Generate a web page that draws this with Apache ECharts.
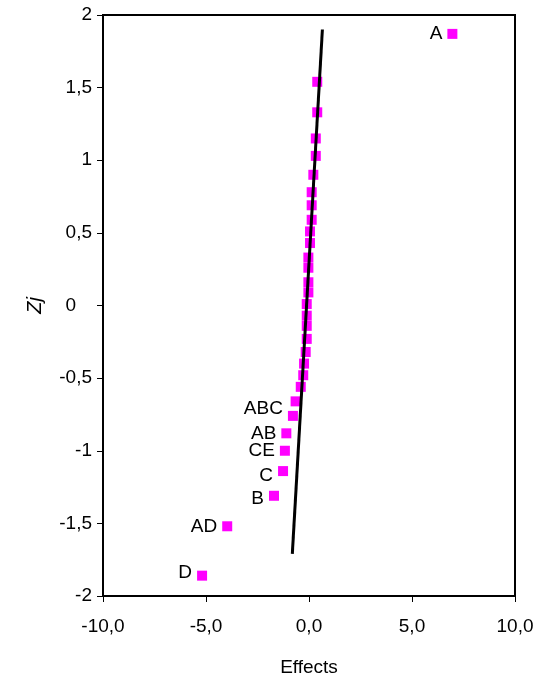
<!DOCTYPE html>
<html>
<head>
<meta charset="utf-8">
<script src="https://cdn.jsdelivr.net/npm/echarts@6/dist/echarts.min.js"></script>
<style>
  html, body { margin: 0; padding: 0; background: #fff; }
  #chart { width: 548px; height: 682px; }
</style>
</head>
<body>
<div id="chart"></div>
<script>
// effect estimates and their normal scores
var effects = [6.96, 0.40, 0.40, 0.33, 0.33, 0.21, 0.13, 0.13, 0.13, 0.05, 0.05,
  -0.03, -0.03, -0.03, -0.03, -0.11, -0.11, -0.11, -0.11, -0.16, -0.24, -0.28,
  -0.40, -0.65, -0.78, -1.10, -1.17, -1.26, -1.70, -3.97, -5.19];
var zScores = [1.87, 1.54, 1.33, 1.15, 1.03, 0.90, 0.78, 0.69, 0.59, 0.51, 0.43,
  0.33, 0.26, 0.16, 0.09, 0.01, -0.07, -0.14, -0.23, -0.32, -0.40, -0.48,
  -0.56, -0.66, -0.76, -0.88, -1.00, -1.14, -1.31, -1.52, -1.86];
var names = ['A', '', '', '', '', '', '', '', '', '', '',
  '', '', '', '', '', '', '', '', '', '', '',
  '', '', 'ABC', 'AB', 'CE', 'C', 'B', 'AD', 'D'];
// reference line end points
var lineX = [-0.81, 0.65];
var lineY = [-1.71, 1.90];

// small vertical nudges of some labels, as in the picture
var labelShift = { ABC: -7, C: 5, B: 3, D: -3 };

var chart = echarts.init(document.getElementById('chart'));

var pts = effects.map(function(v, i) {
  var p = { value: [v, zScores[i]], name: names[i] };
  if (labelShift[names[i]]) p.label = { offset: [0, labelShift[names[i]]] };
  return p;
});

var option = {
  animation: false,
  grid: {
    left: 103, right: 33, top: 15, bottom: 86,
    show: true, borderColor: '#000', borderWidth: 2
  },
  xAxis: {
    type: 'value',
    min: -10, max: 10, interval: 5,
    name: 'Effects',
    nameLocation: 'middle',
    nameGap: 62,
    nameTextStyle: { fontFamily: 'Liberation Sans', fontSize: 19, color: '#000' },
    axisLine: { show: true, onZero: false, lineStyle: { color: '#000', width: 2 } },
    axisTick: { show: true, inside: false, length: 6, lineStyle: { color: '#000' } },
    splitLine: { show: false },
    axisLabel: {
      margin: 21,
      fontFamily: 'Liberation Sans', fontSize: 19, color: '#000',
      formatter: function(v) { return v.toFixed(1).replace('.', ','); }
    }
  },
  yAxis: {
    type: 'value',
    min: -2, max: 2, interval: 0.5,
    name: 'Zj',
    nameLocation: 'middle',
    nameGap: 58,
    nameTextStyle: { fontFamily: 'Liberation Sans', fontSize: 20, fontStyle: 'italic', color: '#000' },
    axisLine: { show: true, onZero: false, lineStyle: { color: '#000', width: 2 } },
    axisTick: { show: true, inside: false, length: 6, lineStyle: { color: '#000' } },
    splitLine: { show: false },
    axisLabel: {
      margin: 11,
      fontFamily: 'Liberation Sans', fontSize: 19, color: '#000',
      formatter: function(v) {
        // the zero label sits a little to the left in the original
        return v === 0 ? '0   ' : String(v).replace('.', ',');
      }
    }
  },
  series: [{
    type: 'line',
    data: [[lineX[0], lineY[0]], [lineX[1], lineY[1]]],
    symbol: 'none',
    lineStyle: { color: '#000', width: 3 },
    z: 3
  }, {
    type: 'scatter',
    data: pts,
    symbol: 'rect',
    symbolSize: 10,
    itemStyle: { color: '#ff00ff', opacity: 1 },
    label: {
      show: true,
      position: 'left',
      distance: 5,
      formatter: '{b}',
      fontFamily: 'Liberation Sans', fontSize: 19, color: '#000'
    },
    z: 2
  }]
};
chart.setOption(option);
</script>
</body>
</html>
